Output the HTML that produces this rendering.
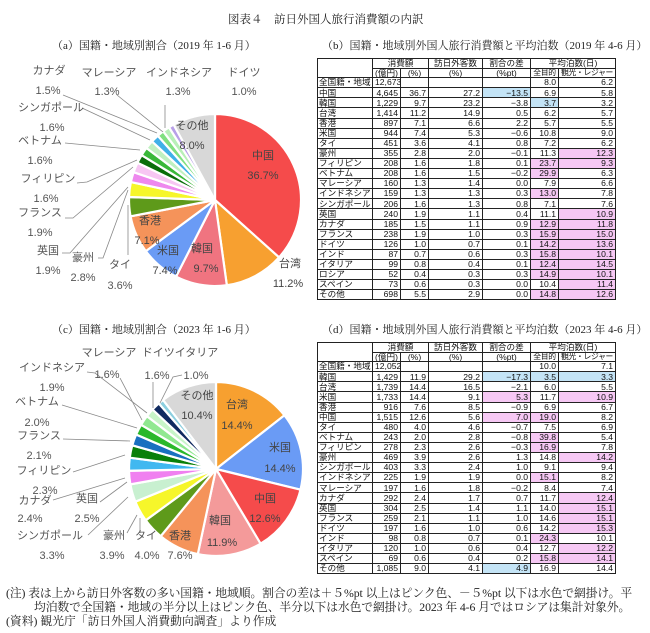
<!DOCTYPE html>
<html><head><meta charset="utf-8">
<style>
body{margin:0;width:650px;height:633px;background:#fff;position:relative;overflow:hidden;font-family:"Liberation Sans","Noto Sans CJK JP",sans-serif;}
.t{position:absolute;white-space:nowrap;}
.serif{font-family:"Liberation Serif","Noto Serif CJK SC",serif;color:#222;}
table{position:absolute;border-collapse:collapse;table-layout:fixed;font-size:8.6px;color:#111;}
td{border:1px solid #222;padding:0 2px;text-align:right;line-height:1;overflow:hidden;white-space:nowrap;}
td.l{text-align:left;padding-left:1px;}
td.c{text-align:center;padding:0;}
td.s{font-size:7.8px;letter-spacing:-0.3px;}
.p{background:#f6c8f4;}
.b{background:#c4e4f6;}
svg text{font-family:"Liberation Sans","Noto Sans CJK JP",sans-serif;}
</style></head><body>
<div class="t serif" style="left:228px;top:11px;font-size:11.5px;">図表４　訪日外国人旅行消費額の内訳</div>
<div class="t serif" style="left:52px;top:37px;font-size:11px;">（a）国籍・地域別割合（2019 年 1-6 月）</div>
<div class="t serif" style="left:322px;top:37px;font-size:11px;">（b）国籍・地域別外国人旅行消費額と平均泊数（2019 年 4-6 月）</div>
<div class="t serif" style="left:52px;top:321px;font-size:11px;">（c）国籍・地域別割合（2023 年 1-6 月）</div>
<div class="t serif" style="left:322px;top:321px;font-size:11px;">（d）国籍・地域別外国人旅行消費額と平均泊数（2023 年 4-6 月）</div>

<svg id="sv" width="650" height="633" style="position:absolute;left:0;top:0;"></svg>

<table id="tb" style="left:317px;top:58px;width:298px;"></table>
<table id="td" style="left:317px;top:342px;width:298px;"></table>

<div class="t serif" style="left:6px;top:584px;font-size:11.8px;letter-spacing:-0.1px;">(注) 表は上から訪日外客数の多い国籍・地域順。割合の差は＋５%pt 以上はピンク色、－５%pt 以下は水色で網掛け。平</div>
<div class="t serif" style="left:34px;top:598px;font-size:11.8px;letter-spacing:-0.1px;">均泊数で全国籍・地域の半分以上はピンク色、半分以下は水色で網掛け。2023 年 4-6 月ではロシアは集計対象外。</div>
<div class="t serif" style="left:6px;top:612px;font-size:11.8px;">(資料) 観光庁「訪日外国人消費動向調査」より作成</div>

<script>
var NS="http://www.w3.org/2000/svg",sv=document.getElementById('sv');
function el(n,a,txt){var e=document.createElementNS(NS,n);for(var k in a)e.setAttribute(k,a[k]);if(txt!=null)e.textContent=txt;sv.appendChild(e);return e;}
function pie(cx,cy,r,data){var tot=0;data.forEach(function(d){tot+=d[0]});var a=0;
data.forEach(function(d){var a0=a/tot*2*Math.PI,a1=(a+d[0])/tot*2*Math.PI;a+=d[0];
var x0=cx+r*Math.sin(a0),y0=cy-r*Math.cos(a0),x1=cx+r*Math.sin(a1),y1=cy-r*Math.cos(a1);
el('path',{d:'M'+cx+','+cy+'L'+x0+','+y0+'A'+r+','+r+' 0 '+((a1-a0)>Math.PI?1:0)+' 1 '+x1+','+y1+'Z',fill:d[1],stroke:'#fff','stroke-width':2.2});});}
pie(215,200,86,[[36.7,'#f54b4b'],[11.2,'#f7a030'],[9.7,'#f07480'],[7.4,'#6a9bf5'],[7.1,'#f5935a'],[3.6,'#5e9a1a'],[2.8,'#f6f62a'],[1.9,'#ee88ee'],[1.9,'#f7c6f3'],[1.6,'#0a6e0a'],[1.6,'#39b839'],[1.6,'#c0f0c0'],[1.5,'#40b0e8'],[1.3,'#80e080'],[1.3,'#b8f0b8'],[1.0,'#b8a0e8'],[8.0,'#d8d8d8']]);
pie(216,469,87,[[14.4,'#f7a030'],[14.4,'#6a9bf5'],[12.6,'#f54b4b'],[11.9,'#f49a9a'],[7.6,'#f5935a'],[4.0,'#5e9a1a'],[3.9,'#f6f62a'],[3.3,'#c8f0d0'],[2.5,'#f080f0'],[2.4,'#40b8f0'],[2.3,'#0a800a'],[2.1,'#1a70c0'],[2.0,'#2ab82a'],[1.9,'#90e890'],[1.6,'#c8f5c8'],[1.6,'#102a60'],[1.0,'#8ccfe0'],[10.4,'#d8d8d8']]);
function ln(pts){el('polyline',{points:pts,fill:'none',stroke:'#888','stroke-width':0.8});}
['63,95 157,133','117,95 163,132','165,105 165,128','82,108 97,115 150,140','65,143 140,150','77,183 87,182 137,160','65,218 73,218 133,167','62,253 70,253 128,187','98,258 103,258 128,190','128,255 128,205',
 '87,372 95,373 147,413','120,378 142,420','153,382 153,408','182,375 173,377 160,403','62,405 137,428','63,439 130,441','73,472 125,455','53,500 125,478','100,502 127,482','88,535 128,497','127,533 137,515','140,533 140,518'].forEach(ln);
function tx(x,y,s,c,sz){el('text',{x:x,y:y,'font-size':sz||11,fill:c||'#555','text-anchor':'middle'},s);}
[[49,74,'カナダ'],[48,94,'1.5%'],[109,76,'マレーシア'],[107,95,'1.3%'],[179,76,'インドネシア'],[178,95,'1.3%'],[244,76,'ドイツ'],[244,95,'1.0%'],[51,111,'シンガポール'],[52,131,'1.6%'],[40,144,'ベトナム'],[40,164,'1.6%'],[48,182,'フィリピン'],[46,202,'1.6%'],[40,216,'フランス'],[40,236,'1.9%'],[48,254,'英国'],[48,274,'1.9%'],[83,261,'豪州'],[83,281,'2.8%'],[120,268,'タイ'],[120,289,'3.6%']].forEach(function(a){tx(a[0],a[1],a[2]);});
[[192,129,'その他'],[192,149,'8.0%'],[263,159,'中国'],[263,179,'36.7%'],[290,267,'台湾'],[288,287,'11.2%'],[202,252,'韓国'],[206,272,'9.7%'],[168,254,'米国'],[165,274,'7.4%'],[150,224,'香港'],[147,244,'7.1%']].forEach(function(a){tx(a[0],a[1],a[2],'#444');});
[[109,356,'マレーシア'],[180,356,'ドイツイタリア'],[52,371,'インドネシア'],[107,378,'1.6%'],[157,379,'1.6%'],[196,379,'1.0%'],[52,391,'1.9%'],[37,405,'ベトナム'],[37,426,'2.0%'],[39,439,'フランス'],[39,459,'2.1%'],[44,474,'フィリピン'],[45,494,'2.3%'],[35,504,'カナダ'],[87,502,'英国'],[30,522,'2.4%'],[87,522,'2.5%'],[50,539,'シンガポール'],[114,539,'豪州'],[146,539,'タイ'],[52,559,'3.3%'],[112,559,'3.9%'],[147,559,'4.0%'],[180,559,'7.6%']].forEach(function(a){tx(a[0],a[1],a[2]);});
[[197,399,'その他'],[197,419,'10.4%'],[237,408,'台湾'],[237,429,'14.4%'],[280,451,'米国'],[280,472,'14.4%'],[265,502,'中国'],[265,522,'12.6%'],[220,524,'韓国'],[222,546,'11.9%'],[180,539,'香港']].forEach(function(a){tx(a[0],a[1],a[2],'#444');});

var W=[55,28,28,54,48,28,57];
function table(id,rows,rh){var t=document.getElementById(id),h='<colgroup>'+W.map(function(w){return '<col style="width:'+w+'px">'}).join('')+'</colgroup>';
h+='<tr style="height:9px"><td rowspan=2></td><td class=c colspan=2>消費額</td><td class=c>訪日外客数</td><td class=c>割合の差</td><td class=c colspan=2>平均泊数(日)</td></tr>';
h+='<tr style="height:9px"><td class=c>(億円)</td><td class=c>(%)</td><td class=c>(%)</td><td class=c>(%pt)</td><td class="c s">全目的</td><td class="c s">観光・レジャー</td></tr>';
rows.forEach(function(r){var f=r.split('|'),c=f[7]||'';h+='<tr style="height:'+rh+'px"><td class=l>'+f[0]+'</td>';for(var i=1;i<7;i++){var k=c[i-1];h+='<td'+(k=='p'?' class=p':k=='b'?' class=b':'')+'>'+f[i]+'</td>';}h+='</tr>';});
t.innerHTML=h;}
table('tb',['全国籍・地域|12,673||||8.0|6.2','中国|4,645|36.7|27.2|−13.5|6.9|5.8|...b','韓国|1,229|9.7|23.2|−3.8|3.7|3.2|....b','台湾|1,414|11.2|14.9|0.5|6.2|5.7','香港|897|7.1|6.6|2.2|5.7|5.5','米国|944|7.4|5.3|−0.6|10.8|9.0','タイ|451|3.6|4.1|0.8|7.2|6.2','豪州|355|2.8|2.0|−0.1|11.3|12.3|.....p','フィリピン|208|1.6|1.8|0.1|23.7|9.3|....pp','ベトナム|208|1.6|1.5|−0.2|29.9|6.3|....p','マレーシア|160|1.3|1.4|0.0|7.9|6.6','インドネシア|159|1.3|1.3|0.3|13.0|7.8|....p','シンガポール|206|1.6|1.3|0.8|7.1|7.6','英国|240|1.9|1.1|0.4|11.1|10.9|.....p','カナダ|185|1.5|1.1|0.9|12.9|11.8|....pp','フランス|238|1.9|1.0|0.3|15.9|15.0|....pp','ドイツ|126|1.0|0.7|0.1|14.2|13.6|....pp','インド|87|0.7|0.6|0.3|15.8|10.1|....pp','イタリア|99|0.8|0.4|0.1|12.4|14.5|....pp','ロシア|52|0.4|0.3|0.3|14.9|10.1|....pp','スペイン|73|0.6|0.3|0.0|10.4|11.4|.....p','その他|698|5.5|2.9|0.0|14.8|12.6|....pp'],10.1);
table('td',['全国籍・地域|12,052||||10.0|7.1','韓国|1,429|11.9|29.2|−17.3|3.5|3.3|...bbb','台湾|1,739|14.4|16.5|−2.1|6.0|5.5','米国|1,733|14.4|9.1|5.3|11.7|10.9|...p.p','香港|916|7.6|8.5|−0.9|6.9|6.7','中国|1,515|12.6|5.6|7.0|19.0|8.2|...pp','タイ|480|4.0|4.6|−0.7|7.5|6.9','ベトナム|243|2.0|2.8|−0.8|39.8|5.4|....p','フィリピン|278|2.3|2.6|−0.3|16.9|7.8|....p','豪州|469|3.9|2.6|1.3|14.8|14.2|.....p','シンガポール|403|3.3|2.4|1.0|9.1|9.4','インドネシア|225|1.9|1.9|0.0|15.1|8.2|....p','マレーシア|197|1.6|1.8|−0.2|8.4|7.4','カナダ|292|2.4|1.7|0.7|11.7|12.4|.....p','英国|304|2.5|1.4|1.1|14.0|15.1|.....p','フランス|259|2.1|1.1|1.0|14.6|15.1|.....p','ドイツ|197|1.6|1.0|0.6|14.2|15.3|.....p','インド|98|0.8|0.7|0.1|24.3|10.1|....p','イタリア|120|1.0|0.6|0.4|12.7|12.2|.....p','スペイン|69|0.6|0.4|0.2|15.8|14.1|....pp','その他|1,085|9.0|4.1|4.9|16.9|14.4|...b'],10.1);
</script>
</body></html>
